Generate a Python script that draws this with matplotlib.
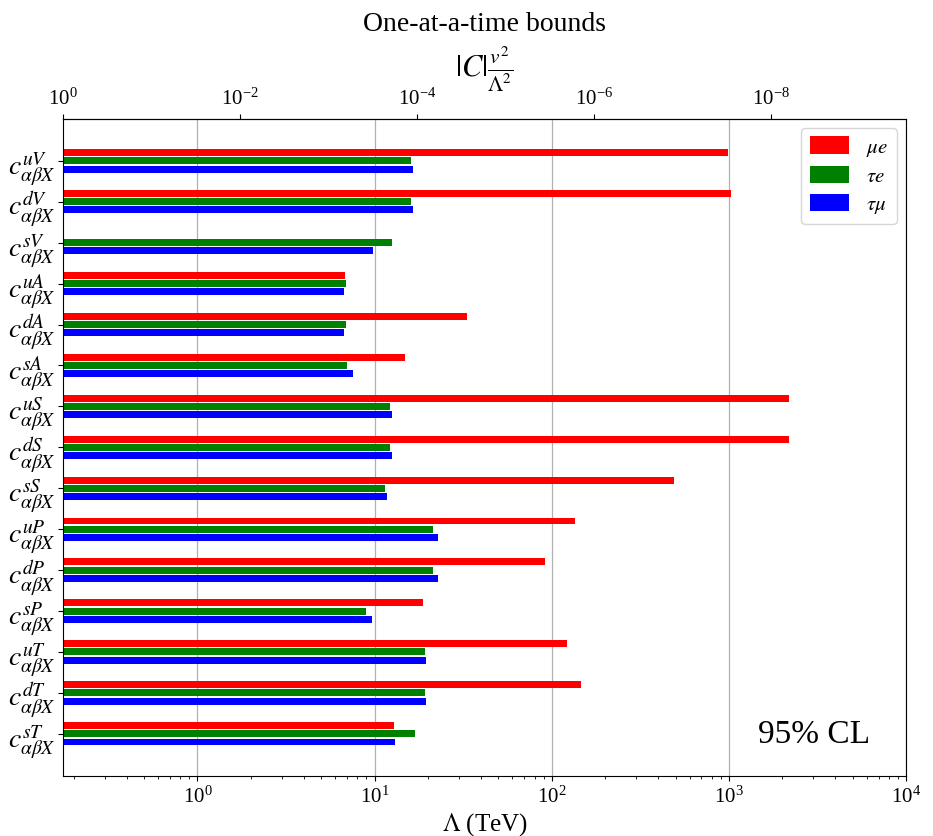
import numpy as np
import matplotlib
matplotlib.use("Agg")
import matplotlib.pyplot as plt
from matplotlib.ticker import NullLocator, FixedLocator, LogFormatterSciNotation

plt.rcParams['font.family'] = 'serif'
plt.rcParams['font.serif'] = ['Liberation Serif', 'DejaVu Serif']
plt.rcParams['mathtext.fontset'] = 'stix'

# --- Data: lower bounds on Lambda (TeV) ---
operators = ['uV', 'dV', 'sV', 'uA', 'dA', 'sA', 'uS', 'dS', 'sS',
             'uP', 'dP', 'sP', 'uT', 'dT', 'sT']
mu_e = [990, 1030, np.nan, 6.77, 33.2, 14.8, 2190, 2190, 491,
        135, 91.6, 18.7, 122, 147, 12.8]
tau_e = [16.0, 16.0, 12.5, 6.86, 6.86, 6.95, 12.2, 12.2, 11.4,
         21.3, 21.3, 9.0, 19.2, 19.2, 16.8]
tau_mu = [16.4, 16.4, 9.75, 6.68, 6.68, 7.51, 12.5, 12.5, 11.7,
          22.7, 22.7, 9.62, 19.4, 19.4, 13.0]
channels = [r'$\mu e$', r'$\tau e$', r'$\tau\mu$']
colors = ['red', 'green', 'blue']

v = 0.174  # TeV

fig = plt.figure(figsize=(9.33, 8.37), dpi=100)
ax = fig.add_axes([0.0675, 0.0717, 0.9035, 0.7853])

y = np.arange(len(operators))
for k, (vals, lab, col) in enumerate(zip([mu_e, tau_e, tau_mu], channels, colors)):
    ax.barh(y + (k - 1) * 0.2, vals, height=0.17, color=col, label=lab)

ax.set_xscale('log')
ax.set_xlim(v, 1e4)
ax.set_ylim(len(operators) - 1 + 1.03, -1.03)
ax.set_yticks(y)
ax.set_yticklabels([r'$c^{%s}_{\alpha\beta X}$' % op for op in operators], fontsize=20)
ax.tick_params(axis='y', pad=2)
ax.tick_params(axis='x', labelsize=15)
ax.xaxis.grid(True, which='major', color='#b0b0b0', linewidth=0.9)
ax.set_axisbelow(True)
ax.set_xlabel(r'$\Lambda$ (TeV)', fontsize=18, labelpad=2)

# --- Top axis in terms of |C| v^2 / Lambda^2 ---
sec = ax.secondary_xaxis('top', functions=(lambda L: (v / L) ** 2,
                                           lambda C: v / np.sqrt(C)))
sec.xaxis.set_major_locator(FixedLocator([1, 1e-2, 1e-4, 1e-6, 1e-8]))
sec.xaxis.set_major_formatter(LogFormatterSciNotation())
sec.xaxis.set_minor_locator(NullLocator())
sec.tick_params(labelsize=15)
sec.set_xlabel(r'$|C|\frac{v^2}{\Lambda^2}$', fontsize=22, labelpad=9)

ax.set_title('One-at-a-time bounds', fontsize=20, pad=64)

ax.legend(loc='upper right', fontsize=15, handlelength=1.9, handleheight=0.9,
          labelspacing=0.35, borderaxespad=0.45)
ax.text(0.957, 0.041, '95% CL', transform=ax.transAxes, fontsize=24,
        ha='right', va='bottom')

plt.savefig('out.png', dpi=100)
